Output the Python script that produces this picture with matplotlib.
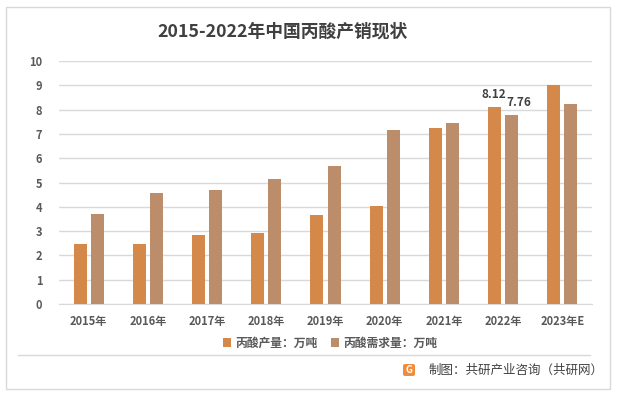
import matplotlib.pyplot as plt
import numpy as np
from matplotlib.patches import FancyBboxPatch, Rectangle
from matplotlib.lines import Line2D

plt.rcParams['font.family'] = ['Noto Sans CJK SC', 'DejaVu Sans']

years = ["2015年", "2016年", "2017年", "2018年", "2019年", "2020年", "2021年", "2022年", "2023年E"]
production = [2.48, 2.48, 2.84, 2.92, 3.66, 4.03, 7.24, 8.12, 9.01]
demand = [3.70, 4.57, 4.69, 5.14, 5.68, 7.16, 7.45, 7.76, 8.23]
name_prod = "丙酸产量：万吨"
name_dem = "丙酸需求量：万吨"

c_prod = "#D4894B"
c_dem = "#BB8D6A"
txt = "#595959"

fig = plt.figure(figsize=(6.17, 3.94), dpi=100)
W, H = 617, 394

# outer border
fig.add_artist(Rectangle((6 / W, 5 / H), 604 / W, 382 / H, transform=fig.transFigure,
                         fill=False, edgecolor="#D9D9D9", linewidth=1))

ax = fig.add_axes([59 / W, (H - 304) / H, 533 / W, 243 / H])
x = np.arange(len(years))
bw = 0.22
off = 0.145
ax.bar(x - off, production, bw, color=c_prod, label=name_prod, zorder=3)
ax.bar(x + off, demand, bw, color=c_dem, label=name_dem, zorder=3)

ax.set_xlim(-0.5, len(years) - 0.5)
ax.set_ylim(0, 10)
ax.set_yticks(range(0, 11))
ax.yaxis.grid(True, color="#D9D9D9", linewidth=1, zorder=0)
for s in ["top", "right", "left"]:
    ax.spines[s].set_visible(False)
ax.spines["bottom"].set_color("#D9D9D9")
ax.tick_params(axis="both", length=0, labelsize=8, labelcolor=txt)
ax.tick_params(axis="y", pad=12)
ax.tick_params(axis="x", pad=8)
ax.set_xticks(x)
ax.set_xticklabels(years)
for lab in ax.get_xticklabels() + ax.get_yticklabels():
    lab.set_fontweight("bold")

# data labels for 2022
i = years.index("2022年")
ax.text(x[i] - off - 0.02, production[i] + 0.25, f"{production[i]:.2f}", ha="center", va="bottom",
        fontsize=8.5, color="#404040", fontweight="bold")
ax.text(x[i] + off + 0.12, demand[i] + 0.25, f"{demand[i]:.2f}", ha="center", va="bottom",
        fontsize=8.5, color="#404040", fontweight="bold")

fig.text(283 / W, (H - 32) / H, "2015-2022年中国丙酸产销现状", ha="center", va="center",
         fontsize=12.8, fontweight="bold", color="#404040")

leg = fig.legend(loc="center", bbox_to_anchor=(330 / W, (H - 343) / H), ncol=2, frameon=False,
                 fontsize=8.5, handlelength=0.7, handleheight=0.7, handletextpad=0.3, columnspacing=1.2)
for t in leg.get_texts():
    t.set_color(txt)
    t.set_fontweight("bold")

fig.add_artist(Line2D([18 / W, 590 / W], [(H - 355) / H, (H - 355) / H], transform=fig.transFigure,
                      color="#D9D9D9", linewidth=1))

# source logo + text
fig.add_artist(FancyBboxPatch((403 / W, (H - 376) / H), 12 / W, 12 / H, transform=fig.transFigure,
                              boxstyle="round,pad=0,rounding_size=0.004", facecolor="#F08C3C", edgecolor="none"))
fig.text(409 / W, (H - 370) / H, "G", ha="center", va="center", fontsize=7, color="white", fontweight="bold")
fig.text(429 / W, (H - 370) / H, "制图：共研产业咨询（共研网）", ha="left", va="center",
         fontsize=9, color="#404040")

fig.savefig("out.png", dpi=100)
